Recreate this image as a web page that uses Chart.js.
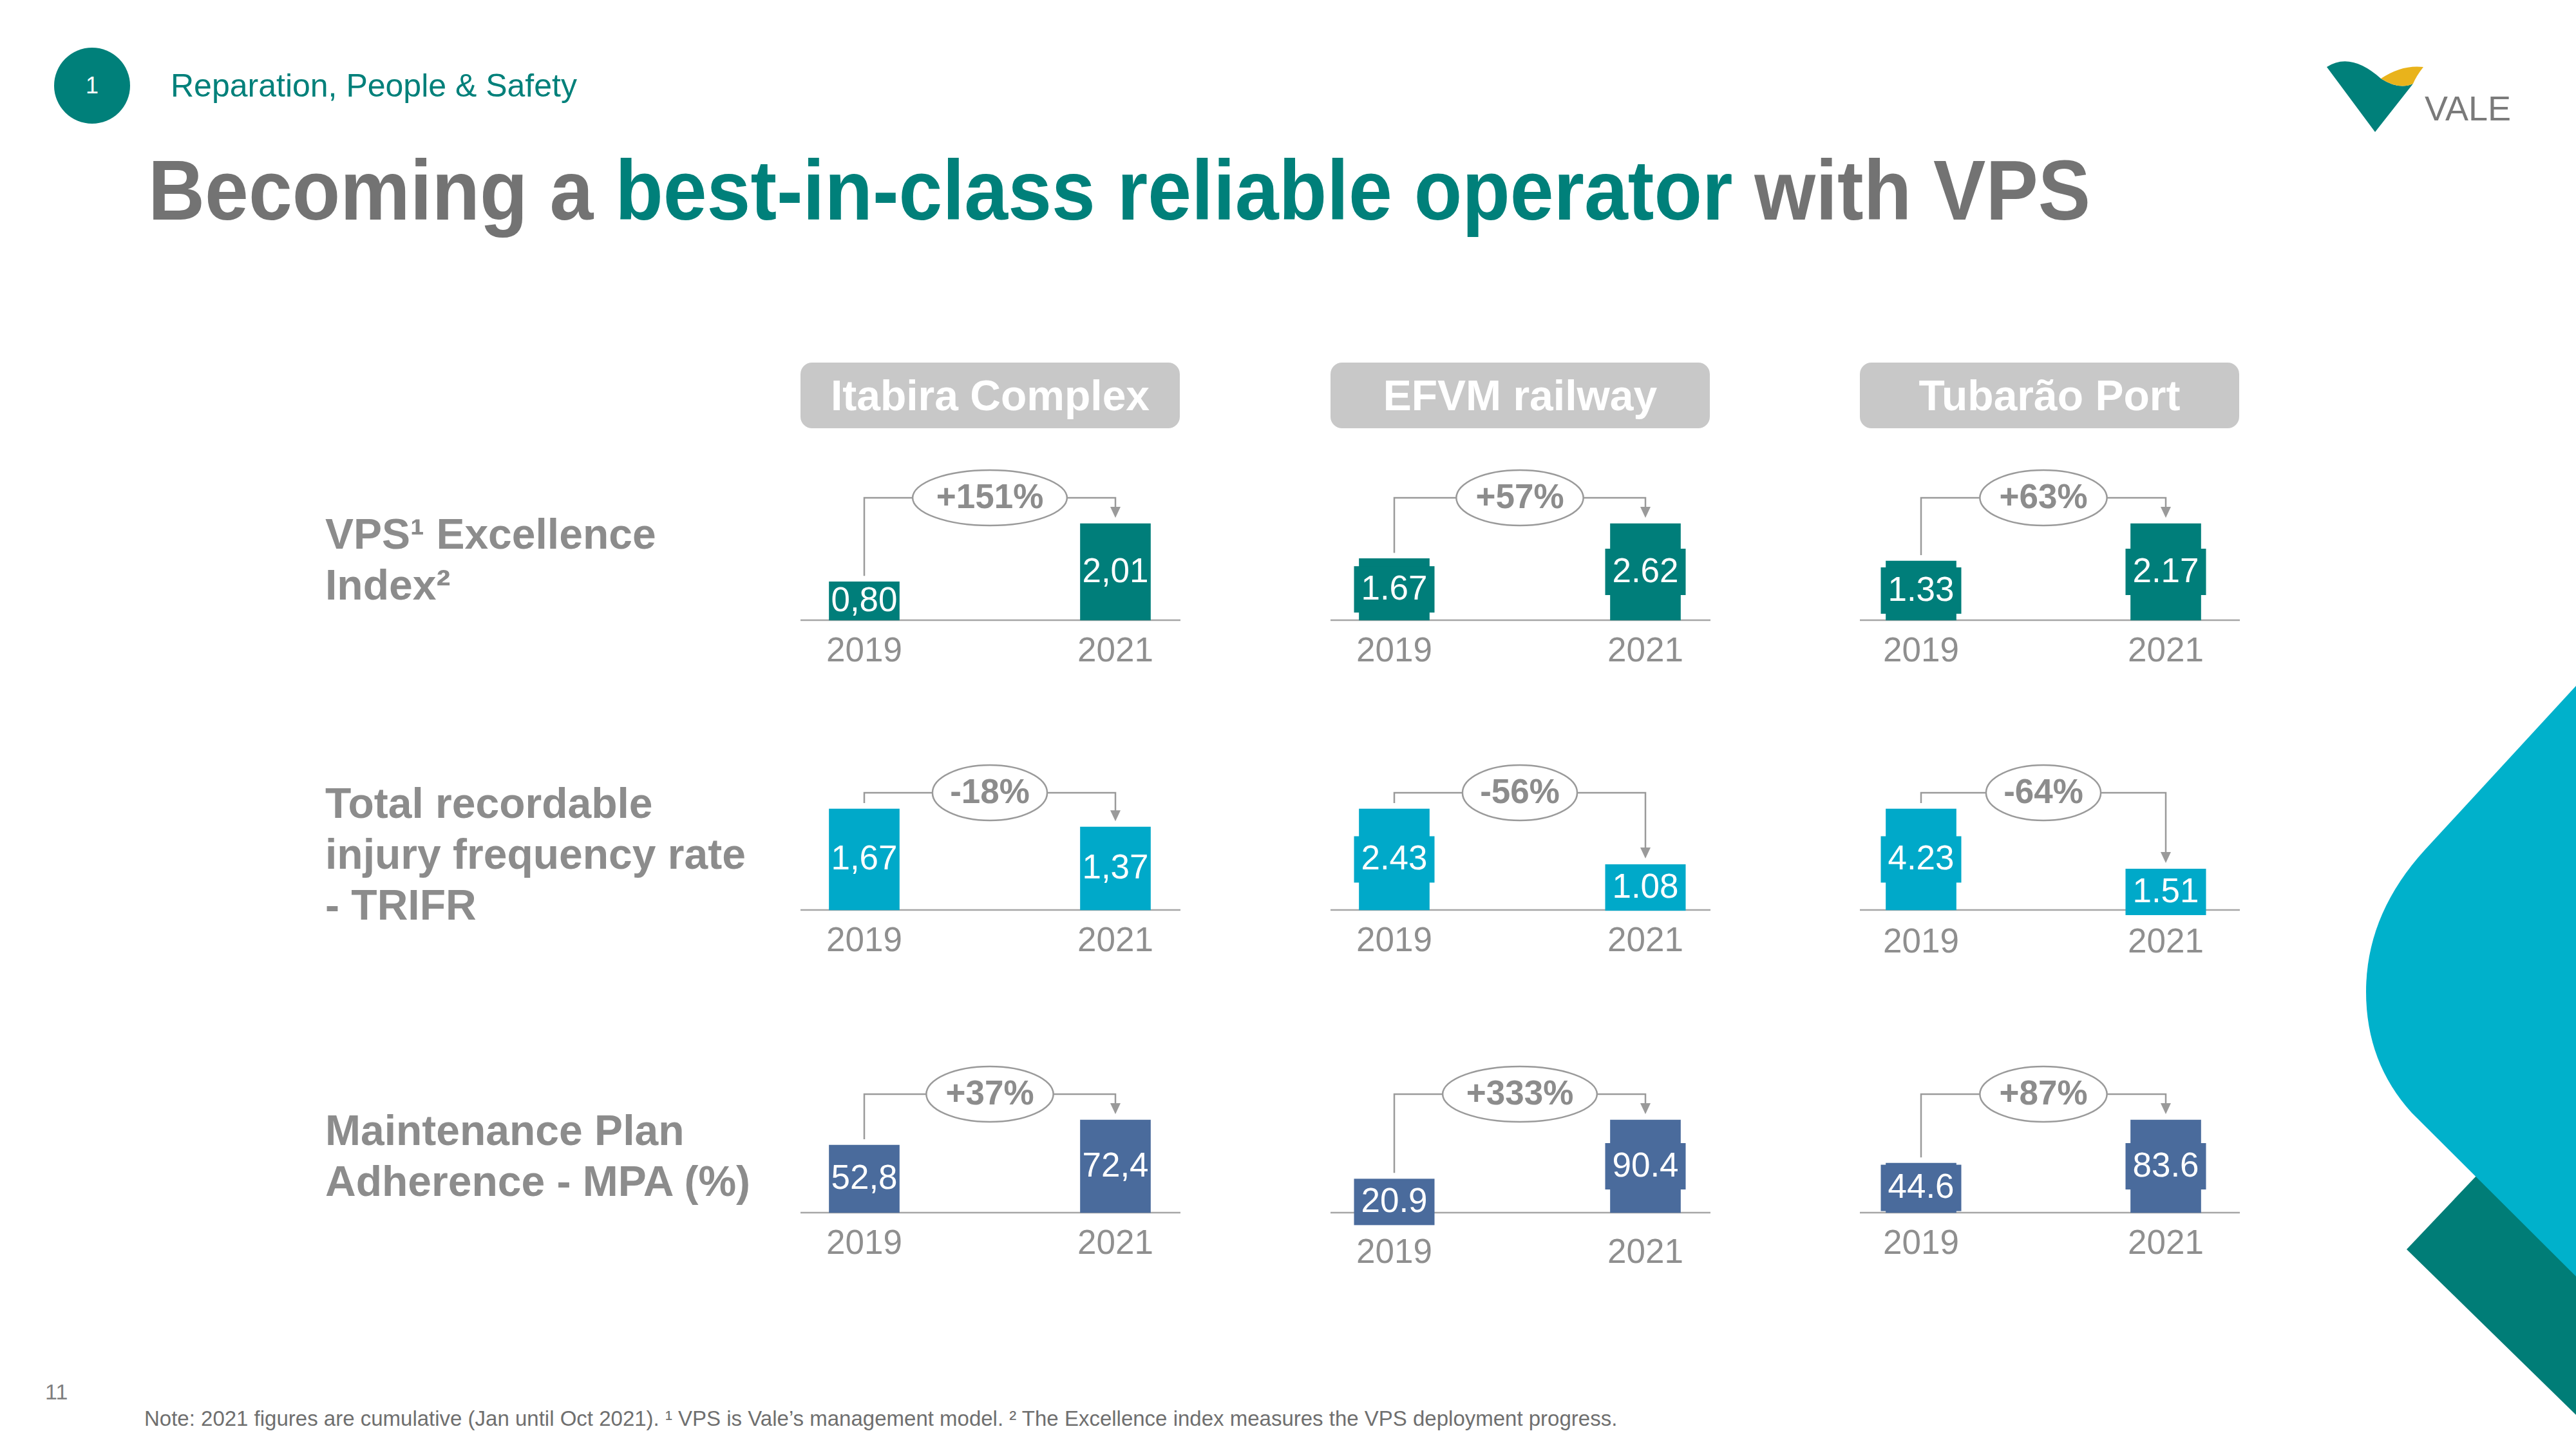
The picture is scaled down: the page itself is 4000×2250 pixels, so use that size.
<!DOCTYPE html>
<html>
<head>
<meta charset="utf-8">
<script src="https://cdn.jsdelivr.net/npm/chart.js@4.4.0/dist/chart.umd.min.js"></script>
<style>
  body { margin: 0; background: #fff; }
  #slide { position: relative; width: 4000px; height: 2250px; overflow: hidden; background: #fff;
           font-family: "Liberation Sans", Arial, sans-serif; }
  .abs { position: absolute; white-space: nowrap; }
  .head { position: absolute; top: 563px; width: 589px; height: 102px; line-height: 102px; border-radius: 18px;
          background: #c8c8c8; color: #fff; font-weight: bold; font-size: 66px; text-align: center; }
  .rowlab { position: absolute; left: 505px; font-size: 66px; line-height: 79px; font-weight: bold; color: #8c8c8c; }
  canvas { position: absolute; }
</style>
</head>
<body>
<div id="slide">
  <svg class="abs" style="left:0;top:0" width="4000" height="2250" viewBox="0 0 4000 2250">
    <circle cx="143" cy="133" r="59" fill="#00807a"/>
    <!-- Vale logo -->
    <path d="M3613 104 Q3650 80 3697 122 Q3725 140 3747 130 L3688 205 Z" fill="#00807a"/>
    <path d="M3697 122 Q3730 100 3763 104 Q3752 118 3747 130 Q3725 140 3697 122 Z" fill="#e9b31b"/>
    <!-- decorative shapes on the right -->
    <path d="M3737 1940 L3960 1705 L4000 1705 L4000 2197 Z" fill="#007d77"/>
    <path d="M4000 1065 L3765 1320 Q3674 1420 3674 1540 Q3674 1650 3745 1728 L4000 1982 Z" fill="#00b1cb"/>
  </svg>

  <div class="abs" style="left:84px;top:103px;width:118px;text-align:center;font-size:36px;line-height:60px;color:#fff">1</div>
  <div class="abs" style="left:265px;top:108px;font-size:50px;line-height:50px;color:#00807a">Reparation, People &amp; Safety</div>
  <div class="abs" style="left:3765px;top:128px;font-size:54px;line-height:80px;color:#7a7a7a">VALE</div>

  <div class="abs" style="left:230px;top:230px;font-size:132px;line-height:132px;font-weight:bold;color:#737373;transform:scaleX(0.924);transform-origin:left top">Becoming a <span style="color:#00807a">best-in-class reliable operator</span> with VPS</div>

  <div class="rowlab" style="top:790px">VPS¹ Excellence<br>Index²</div>
  <div class="rowlab" style="top:1208px">Total recordable<br>injury frequency rate<br>- TRIFR</div>
  <div class="rowlab" style="top:1716px">Maintenance Plan<br>Adherence - MPA (%)</div>

  <div class="abs" style="left:70px;top:2144px;font-size:34px;line-height:34px;color:#7f7f7f">11</div>
  <div class="abs" style="left:224px;top:2186px;font-size:33px;line-height:33px;color:#6f6f6f">Note: 2021 figures are cumulative (Jan until Oct 2021). ¹ VPS is Vale’s management model. ² The Excellence index measures the VPS deployment progress.</div>
</div>

<script>
// values
const sites = ["Itabira Complex", "EFVM railway", "Tubarão Port"];
const years = ["2019", "2021"];
const decimalComma = [true, false, false];

const vpsIndex = [[0.80, 2.01], [1.67, 2.62], [1.33, 2.17]];
const vpsChange = ["+151%", "+57%", "+63%"];
const trifr = [[1.67, 1.37], [2.43, 1.08], [4.23, 1.51]];
const trifrChange = ["-18%", "-56%", "-64%"];
const mpa = [[52.8, 72.4], [20.9, 90.4], [44.6, 83.6]];
const mpaChange = ["+37%", "+333%", "+87%"];

const rows = [
  { values: vpsIndex, changes: vpsChange, digits: 2, color: "#007e7a", baseline: 963, maxH: 150 },
  { values: trifr, changes: trifrChange, digits: 2, color: "#00a9c9", baseline: 1413, maxH: 157 },
  { values: mpa, changes: mpaChange, digits: 1, color: "#4a6b9c", baseline: 1883, maxH: 144 },
];
const panelX = [1243, 2066, 2888];
const padLeft = [99, 99, 95];
const padRight = [101, 101, 115];
const PANEL_W = 590, TOP_PAD = 130, AXIS_H = 110, BOTTOM_PAD = 10;
const BOX_W = 125, BOX_H = 72;
const FONT = '"Liberation Sans", Arial, sans-serif';

Chart.defaults.font.family = FONT;

const slide = document.getElementById("slide");

// headers
sites.forEach((name, c) => {
  const d = document.createElement("div");
  d.className = "head";
  d.style.left = panelX[c] + "px";
  d.textContent = name;
  slide.appendChild(d);
});

// axis line, value boxes and the change bracket with its ellipse
const bracketPlugin = {
  id: "bracket",
  beforeDatasetsDraw(chart) {
    const ctx = chart.ctx;
    const y0 = chart.scales.y.getPixelForValue(0);
    ctx.save();
    ctx.strokeStyle = "#a6a6a6";
    ctx.lineWidth = 2.5;
    ctx.beginPath();
    ctx.moveTo(0, y0);
    ctx.lineTo(chart.width, y0);
    ctx.stroke();
    ctx.restore();
  },
  afterDatasetsDraw(chart, args, o) {
    const ctx = chart.ctx;
    const bars = chart.getDatasetMeta(0).data;
    const tops = [];
    ctx.save();
    ctx.font = "53px " + FONT;
    ctx.textAlign = "center";
    ctx.textBaseline = "middle";
    bars.forEach((bar, i) => {
      const mid = (bar.y + bar.base) / 2;
      let top = bar.y;
      if (o.boxed) {
        ctx.fillStyle = o.color;
        ctx.fillRect(bar.x - BOX_W / 2, mid - BOX_H / 2, BOX_W, BOX_H);
        top = Math.min(top, mid - BOX_H / 2);
      }
      ctx.fillStyle = "#fff";
      ctx.fillText(o.labels[i], bar.x, mid + 1);
      tops.push(top);
    });

    const yB = Math.min(tops[0] - 25, tops[1] - 40);
    const cx = (bars[0].x + bars[1].x) / 2;
    ctx.font = "bold 53px " + FONT;
    const w = ctx.measureText(o.change).width * 1.44;
    const h = 86;
    const tip = tops[1] - 9;

    ctx.strokeStyle = "#9a9a9a";
    ctx.lineWidth = 2.5;
    ctx.beginPath();
    ctx.moveTo(bars[0].x, tops[0] - 9);
    ctx.lineTo(bars[0].x, yB);
    ctx.lineTo(cx - w / 2, yB);
    ctx.moveTo(cx + w / 2, yB);
    ctx.lineTo(bars[1].x, yB);
    ctx.lineTo(bars[1].x, tip - 16);
    ctx.stroke();

    ctx.fillStyle = "#9a9a9a";
    ctx.beginPath();
    ctx.moveTo(bars[1].x - 8, tip - 17);
    ctx.lineTo(bars[1].x + 8, tip - 17);
    ctx.lineTo(bars[1].x, tip);
    ctx.closePath();
    ctx.fill();

    ctx.beginPath();
    ctx.ellipse(cx, yB, w / 2, h / 2, 0, 0, Math.PI * 2);
    ctx.fillStyle = "#fff";
    ctx.fill();
    ctx.stroke();

    ctx.fillStyle = "#8c8c8c";
    ctx.fillText(o.change, cx, yB + 1);
    ctx.restore();
  }
};

rows.forEach((row) => {
  sites.forEach((site, c) => {
    const values = row.values[c];
    const maxV = Math.max(...values);
    const boxed = !decimalComma[c];
    const labels = values.map(v => {
      const s = v.toFixed(row.digits);
      return decimalComma[c] ? s.replace(".", ",") : s;
    });
    // push the year labels down when a value box hangs below the axis
    const minH = Math.min(...values) / maxV * row.maxH;
    const tickPad = 18 + (boxed ? Math.max(0, BOX_H / 2 - minH / 2 - 6) : 0);

    const canvas = document.createElement("canvas");
    const top = row.baseline - row.maxH - TOP_PAD;
    canvas.width = PANEL_W;
    canvas.height = TOP_PAD + row.maxH + AXIS_H + BOTTOM_PAD;
    canvas.style.left = panelX[c] + "px";
    canvas.style.top = top + "px";
    slide.appendChild(canvas);

    new Chart(canvas, {
      type: "bar",
      data: {
        labels: years,
        datasets: [{
          data: values,
          backgroundColor: row.color,
          barThickness: 109,
          clip: false,
        }],
      },
      options: {
        responsive: false,
        animation: false,
        devicePixelRatio: 1,
        layout: { padding: { top: TOP_PAD, left: padLeft[c], right: padRight[c], bottom: BOTTOM_PAD } },
        scales: {
          x: {
            offset: false,
            grid: { display: false, drawTicks: false },
            border: { display: false },
            ticks: { color: "#8f8f8f", font: { size: 53 }, padding: tickPad, maxRotation: 0, autoSkip: false },
            afterFit: (s) => { s.height = AXIS_H; },
          },
          y: { display: false, min: 0, max: maxV },
        },
        plugins: {
          legend: { display: false },
          tooltip: { enabled: false },
          bracket: { labels: labels, change: row.changes[c], boxed: boxed, color: row.color },
        },
      },
      plugins: [bracketPlugin],
    });
  });
});
</script>
</body>
</html>
